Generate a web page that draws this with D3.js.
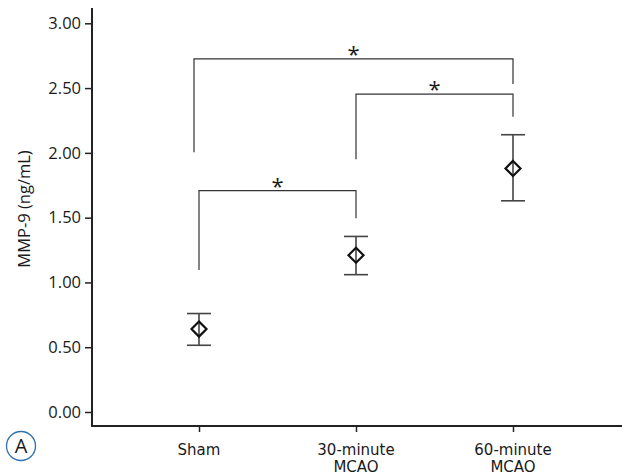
<!DOCTYPE html>
<html>
<head>
<meta charset="utf-8">
<script src="https://cdn.jsdelivr.net/npm/d3@7"></script>
<style>
  html, body { margin: 0; padding: 0; background: #fff; }
  svg text { font-family: "Open Sans", "Noto Sans", sans-serif; fill: #1a1a1a; }
</style>
</head>
<body>
<svg id="chart" width="622" height="476"></svg>
<script>
// ---- data ----
const categories = ["Sham", "30-minute MCAO", "60-minute MCAO"];
const categoryLines = [["Sham"], ["30-minute", "MCAO"], ["60-minute", "MCAO"]];
const means = [0.64, 1.21, 1.88];
const upper = [0.76, 1.355, 2.14];
const lower = [0.515, 1.06, 1.63];
const yTicks = [0, 0.5, 1.0, 1.5, 2.0, 2.5, 3.0];
const yLabel = "MMP-9 (ng/mL)";
// significance brackets: [from index, to index, bar level, left drop level, right drop level]
const bracketFrom = [0, 1, 0];
const bracketTo = [1, 2, 2];
const bracketLevel = [1.708, 2.454, 2.726];
const bracketLeftEnd = [1.096, 1.95, 2.004];
const bracketRightEnd = [1.495, 2.279, 2.531];
const bracketMark = ["*", "*", "*"];
const panelLetter = "A";

// ---- layout ----
const svg = d3.select("#chart");
const axisX = 92, axisBottom = 426, axisTop = 8, axisRight = 622;

const y = d3.scaleLinear().domain([0, 3]).range([412, 23.3]);
const x = d3.scalePoint().domain(categories).range([199, 513]);

// y axis
const yAxis = d3.axisLeft(y).tickValues(yTicks).tickFormat(d3.format(".2f")).tickSize(7).tickPadding(4);
const gy = svg.append("g").attr("transform", `translate(${axisX},0)`).call(yAxis);
gy.select(".domain").remove();
gy.selectAll(".tick line").attr("stroke", "#222").attr("stroke-width", 1.5);
gy.selectAll(".tick text").attr("font-size", 16.5).attr("fill", "#1a1a1a")
  .attr("font-family", '"Open Sans", sans-serif');
svg.append("line").attr("x1", axisX).attr("x2", axisX).attr("y1", axisTop).attr("y2", axisBottom)
  .attr("stroke", "#222").attr("stroke-width", 2);

// x axis
svg.append("line").attr("x1", axisX - 1).attr("x2", axisRight).attr("y1", axisBottom).attr("y2", axisBottom)
  .attr("stroke", "#222").attr("stroke-width", 2);
const xAxis = d3.axisBottom(x).tickSize(6).tickFormat("");
const gx = svg.append("g").attr("transform", `translate(0,${axisBottom})`).call(xAxis);
gx.select(".domain").remove();
gx.selectAll(".tick line").attr("stroke", "#222").attr("stroke-width", 1.5);
categories.forEach((c, i) => {
  categoryLines[i].forEach((ln, j) => {
    svg.append("text").attr("x", x(c)).attr("y", 454.5 + j * 17.5)
      .attr("text-anchor", "middle").attr("font-size", 15)
      .style("font-family", '"DejaVu Sans", sans-serif').text(ln);
  });
});

// y label
svg.append("text").attr("transform", `translate(30,209) rotate(-90)`)
  .attr("text-anchor", "middle").attr("font-size", 16.5).text(yLabel);

// brackets
bracketFrom.forEach((f, i) => {
  const off = (f === 0 && bracketTo[i] === 2) ? -5 : 0;
  const x1 = x(categories[f]) + off, x2 = x(categories[bracketTo[i]]);
  const yl = y(bracketLevel[i]);
  svg.append("path")
    .attr("d", `M${x1},${y(bracketLeftEnd[i])}V${yl}H${x2}V${y(bracketRightEnd[i])}`)
    .attr("fill", "none").attr("stroke", "#333").attr("stroke-width", 1.2);
  svg.append("text").attr("x", (x1 + x2) / 2).attr("y", yl + 3)
    .attr("text-anchor", "middle").attr("font-size", 22).text(bracketMark[i]);
});

// error bars and means
const capW = 12;
categories.forEach((c, i) => {
  const cx = x(c);
  const g = svg.append("g").attr("stroke", "#444").attr("stroke-width", 1.6).attr("fill", "none");
  g.append("line").attr("x1", cx).attr("x2", cx).attr("y1", y(upper[i])).attr("y2", y(lower[i]));
  g.append("line").attr("x1", cx - capW).attr("x2", cx + capW).attr("y1", y(upper[i])).attr("y2", y(upper[i]));
  g.append("line").attr("x1", cx - capW).attr("x2", cx + capW).attr("y1", y(lower[i])).attr("y2", y(lower[i]));
  const cy = y(means[i]), r = 7.5;
  svg.append("path").attr("d", `M${cx},${cy - r}L${cx + r},${cy}L${cx},${cy + r}L${cx - r},${cy}Z`)
    .attr("fill", "none").attr("stroke", "#111").attr("stroke-width", 2.2);
});

// panel letter
svg.append("circle").attr("cx", 21).attr("cy", 446).attr("r", 14.5)
  .attr("fill", "none").attr("stroke", "#2f6fae").attr("stroke-width", 1.3);
svg.append("text").attr("x", 21).attr("y", 453).attr("text-anchor", "middle")
  .attr("font-size", 20).text(panelLetter);
</script>
</body>
</html>
